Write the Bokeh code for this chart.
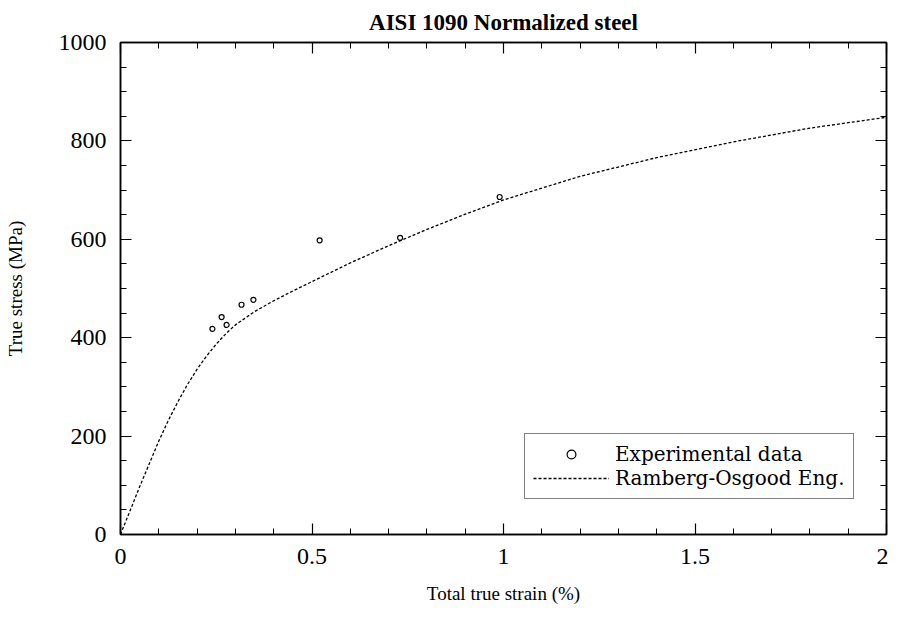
from bokeh.plotting import figure
from bokeh.models import (Range1d, SingleIntervalTicker, LinearAxis, Legend, LegendItem,
                          CustomJSTickFormatter, ColumnDataSource)
from bokeh.embed import file_html
from bokeh.resources import INLINE

# ---- data ----
exp_strain = [0.240, 0.264, 0.277, 0.316, 0.347, 0.52, 0.73, 0.99]
exp_stress = [418, 442, 426, 467, 477, 598, 603, 686]

ro_strain = [0, 0.05, 0.10, 0.125, 0.15, 0.175, 0.20, 0.225, 0.25, 0.275, 0.30,
             0.35, 0.40, 0.45, 0.50, 0.60, 0.70, 0.80, 0.90, 1.00,
             1.20, 1.40, 1.60, 1.80, 2.00]
ro_stress = [0, 97, 190, 232, 270, 305, 336, 363, 387, 408, 426,
             453, 475, 495, 514, 552, 587, 620, 651, 680,
             728, 766, 798, 826, 848]

title_text = "AISI 1090 Normalized steel"
x_label = "Total true strain (%)"
y_label = "True stress (MPa)"

SERIF = "Liberation Serif"

p = figure(width=888, height=612, x_range=Range1d(0, 2), y_range=Range1d(0, 1000),
           output_backend="svg", toolbar_location=None,
           min_border_left=120, min_border_right=2, min_border_top=41, min_border_bottom=78,
           x_axis_type=None, y_axis_type=None)
p.grid.visible = False
p.outline_line_color = "black"
p.outline_line_width = 1.5

p.title.text = title_text
p.title.text_font = SERIF
p.title.text_font_size = "23px"
p.title.text_font_style = "bold"
p.title.align = "center"
p.title.text_color = "black"
p.title.standoff = 15

fmt = CustomJSTickFormatter(code="return String(Math.round(tick*10)/10);")

def make_axis(kind, show_labels):
    if kind == "x":
        tk = SingleIntervalTicker(interval=0.5, num_minor_ticks=5)
    else:
        tk = SingleIntervalTicker(interval=200, num_minor_ticks=4)
    ax = LinearAxis(ticker=tk, formatter=fmt)
    ax.major_tick_in = 11
    ax.major_tick_out = 0
    ax.minor_tick_in = 6
    ax.minor_tick_out = 0
    ax.axis_line_color = "black"
    ax.axis_line_width = 1.5
    ax.major_tick_line_color = "black"
    ax.minor_tick_line_color = "black"
    ax.major_tick_line_width = 1.2
    ax.minor_tick_line_width = 1.0
    if show_labels:
        ax.major_label_text_font = SERIF
        ax.major_label_text_font_size = "24px"
        ax.major_label_text_color = "black"
        ax.major_label_standoff = 14
        ax.axis_label_text_font = SERIF
        ax.axis_label_text_font_size = "19px"
        ax.axis_label_text_font_style = "normal"
        ax.axis_label_text_color = "black"
    else:
        ax.major_label_text_font_size = "0px"
        ax.major_label_standoff = 0
        ax.axis_label_standoff = 0
    return ax

xb = make_axis("x", True)
xb.axis_label = x_label
xb.axis_label_standoff = 16
yl = make_axis("y", True)
yl.axis_label = y_label
yl.axis_label_standoff = 30
xt = make_axis("x", False)
yr = make_axis("y", False)
p.add_layout(xb, "below")
p.add_layout(yl, "left")
p.add_layout(xt, "above")
p.add_layout(yr, "right")

ro_src = ColumnDataSource(dict(x=ro_strain, y=ro_stress))
exp_src = ColumnDataSource(dict(x=exp_strain, y=exp_stress))

ln = p.line("x", "y", source=ro_src, line_color="black", line_width=1.3, line_dash="3 2")
sc = p.scatter("x", "y", source=exp_src, marker="circle", size=5,
               line_color="black", line_width=1.2, fill_color="white")

legend = Legend(items=[LegendItem(label="Experimental data", renderers=[sc]),
                       LegendItem(label="Ramberg-Osgood Eng.", renderers=[ln])],
                location=(404, 35))
legend.label_text_font = "DejaVu Serif"
legend.label_text_font_size = "20px"
legend.label_text_color = "black"
legend.glyph_width = 76
legend.label_standoff = 6
legend.padding = 8
legend.margin = 0
legend.spacing = 0
legend.label_height = 22
legend.glyph_height = 22
legend.border_line_color = "black"
legend.border_line_width = 1.5
legend.background_fill_color = "white"
legend.background_fill_alpha = 1.0
p.add_layout(legend)

open("out.html", "w").write(file_html(p, INLINE))
